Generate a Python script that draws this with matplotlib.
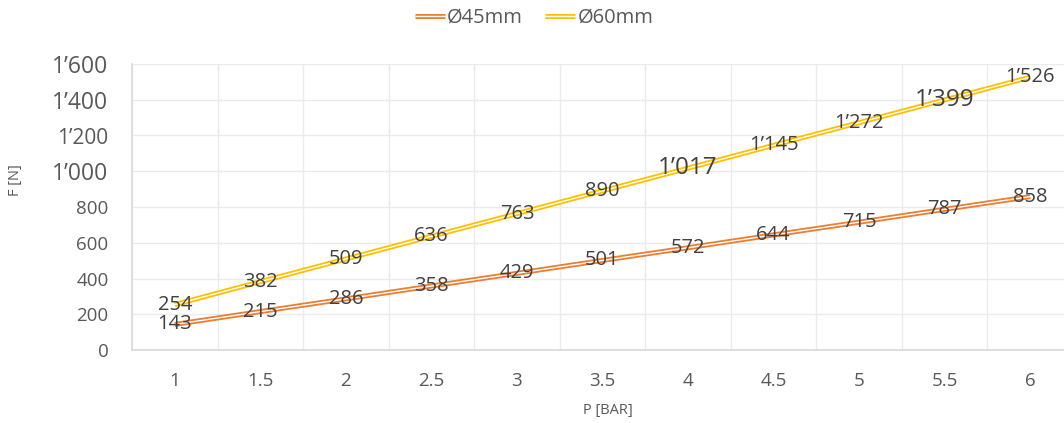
import matplotlib.pyplot as plt
import matplotlib.patheffects as pe

pressure = ['1', '1.5', '2', '2.5', '3', '3.5', '4', '4.5', '5', '5.5', '6']
force_45 = [143, 215, 286, 358, 429, 501, 572, 644, 715, 787, 858]
force_60 = [254, 382, 509, 636, 763, 890, 1017, 1145, 1272, 1399, 1526]
series_names = ['Ø45mm', 'Ø60mm']
y_ticks = [0, 200, 400, 600, 800, 1000, 1200, 1400, 1600]


def fmt(v):
    # schweizer Tausendertrenner
    return f'{v:,}'.replace(',', '’')


plt.rcParams['font.family'] = ['Open Sans', 'DejaVu Sans']
grey = '#595959'
dark = '#404040'

fig = plt.figure(figsize=(10.64, 4.23), dpi=100)
# Plotbereich ragt rechts leicht über den Bildrand hinaus (wie im Original)
ax = fig.add_axes([132 / 1064, 1 - 350 / 423, 941 / 1064, 286 / 423])

x = list(range(len(pressure)))
colors = ['#ED7D31', '#FFC000']
for vals, name, c in zip([force_45, force_60], series_names, colors):
    ax.plot(x, vals, color='white', lw=1.0, label=name, solid_capstyle='butt',
            path_effects=[pe.Stroke(linewidth=3.6, foreground=c), pe.Normal()])

# Datenbeschriftungen (Excel hat ein paar grösser gerendert)
big_60 = {6: 17.5, 9: 17.5}
for i, v in enumerate(force_45):
    ax.text(i, v, fmt(v), ha='center', va='center', fontsize=14.5, color=dark)
for i, v in enumerate(force_60):
    ax.text(i, v, fmt(v), ha='center', va='center', fontsize=big_60.get(i, 14.5), color=dark)

ax.set_xlim(-0.5, len(pressure) - 0.5)
ax.set_ylim(0, 1600)
ax.set_xticks(x)
ax.set_xticklabels(pressure, fontsize=13.5, color=grey)
ax.set_xticks([i - 0.5 for i in range(len(pressure) + 1)], minor=True)
ax.set_yticks(y_ticks)
ysizes = {1600: 16.5, 1400: 16.5, 1000: 16.5, 1200: 15}
ax.set_yticklabels([fmt(t) for t in y_ticks], color=grey)
for t, lab in zip(y_ticks, ax.get_yticklabels()):
    lab.set_fontsize(ysizes.get(t, 13.5))
ax.tick_params(axis='both', which='both', length=0)
ax.tick_params(axis='y', pad=17)
ax.tick_params(axis='x', pad=16)
ax.grid(axis='y', which='major', color='#EBEBEB', lw=1)
ax.grid(axis='x', which='minor', color='#EBEBEB', lw=1)
ax.set_axisbelow(True)
for s in ['top', 'right']:
    ax.spines[s].set_visible(False)
for s in ['left', 'bottom']:
    ax.spines[s].set_color('#D9D9D9')
    ax.spines[s].set_linewidth(1.2)

fig.text(15 / 1064, 1 - 180 / 423, 'F [N]', rotation=90, ha='center', va='center',
         fontsize=10.5, color=grey)
fig.text(608 / 1064, 1 - 410 / 423, 'P [BAR]', ha='center', va='center',
         fontsize=10.5, color=grey)

fig.legend(loc='center', bbox_to_anchor=(534 / 1064, 1 - 18 / 423), ncol=2,
           frameon=False, fontsize=14.5, handlelength=1.5, handletextpad=0.1,
           columnspacing=1.1, labelcolor=grey)

fig.savefig('out.png', dpi=100)
